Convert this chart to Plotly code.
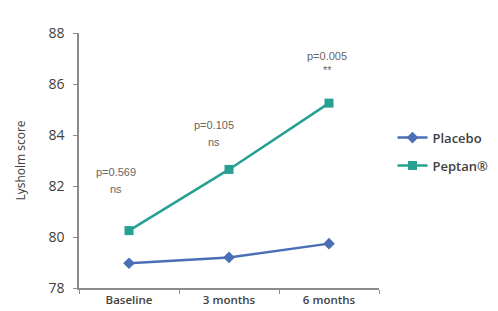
import plotly.graph_objects as go

categories = ["Baseline", "3 months", "6 months"]
placebo = [78.97, 79.2, 79.74]
peptan = [80.25, 82.65, 85.25]
p_values = ["p=0.569", "p=0.105", "p=0.005"]
significance = ["ns", "ns", "**"]
y_ticks = [78, 80, 82, 84, 86, 88]

BLUE = "#4a6fb5"
TEAL = "#25a091"
GRAY = "#8c8c8c"

fig = go.Figure()
fig.add_trace(go.Scatter(x=categories, y=placebo, name="Placebo", mode="lines+markers",
                         line=dict(color=BLUE, width=2.5),
                         marker=dict(symbol="diamond", size=9, color=BLUE),
                         legendgroup="a"))
fig.add_trace(go.Scatter(x=categories, y=peptan, name="Peptan®", mode="lines+markers",
                         line=dict(color=TEAL, width=2.5),
                         marker=dict(symbol="square", size=9, color=TEAL),
                         legendgroup="b"))

p_offsets = [2.28, 1.75, 1.86]
s_offsets = [1.62, 1.09, 1.28]
x_shifts = [-13, -15, -2]
for c, v, p, s, po, so, xs in zip(categories, peptan, p_values, significance,
                                   p_offsets, s_offsets, x_shifts):
    fig.add_annotation(x=c, y=v + po, text=p, showarrow=False,
                       font=dict(size=11, color="#666666", family="Liberation Sans"),
                       xshift=xs)
    fig.add_annotation(x=c, y=v + so, text=s, showarrow=False,
                       font=dict(size=11, color="#666666", family="Liberation Sans"),
                       xshift=xs)

fig.update_layout(
    width=498, height=311,
    margin=dict(l=70, r=112, t=25, b=28),
    paper_bgcolor="white", plot_bgcolor="white",
    font=dict(family="Open Sans", color="#404040"),
    showlegend=True,
    legend=dict(x=1.045, y=0.535, yanchor="middle", xanchor="left",
                font=dict(size=13, color="#404040", weight=600),
                traceorder="grouped", tracegroupgap=8,
                itemwidth=30,
                bgcolor="rgba(0,0,0,0)"),
    xaxis=dict(type="category", range=[-0.5, 2.5], showline=True, linecolor=GRAY,
               linewidth=1.5, ticks="outside", tickson="boundaries", ticklen=4,
               tickcolor=GRAY, showgrid=False, zeroline=False,
               tickfont=dict(size=11.5, color="#404040", weight=600)),
    yaxis=dict(range=[78, 88], tickvals=y_ticks, showline=True, linecolor=GRAY,
               linewidth=1.5, ticks="outside", ticklen=4, tickcolor=GRAY,
               showgrid=False, zeroline=False, ticklabelstandoff=6,
               tickfont=dict(size=14, color="#404040"),
               title=dict(text="Lysholm score", font=dict(size=12, color="#404040"), standoff=20)),
)

fig.write_html("out.html")
